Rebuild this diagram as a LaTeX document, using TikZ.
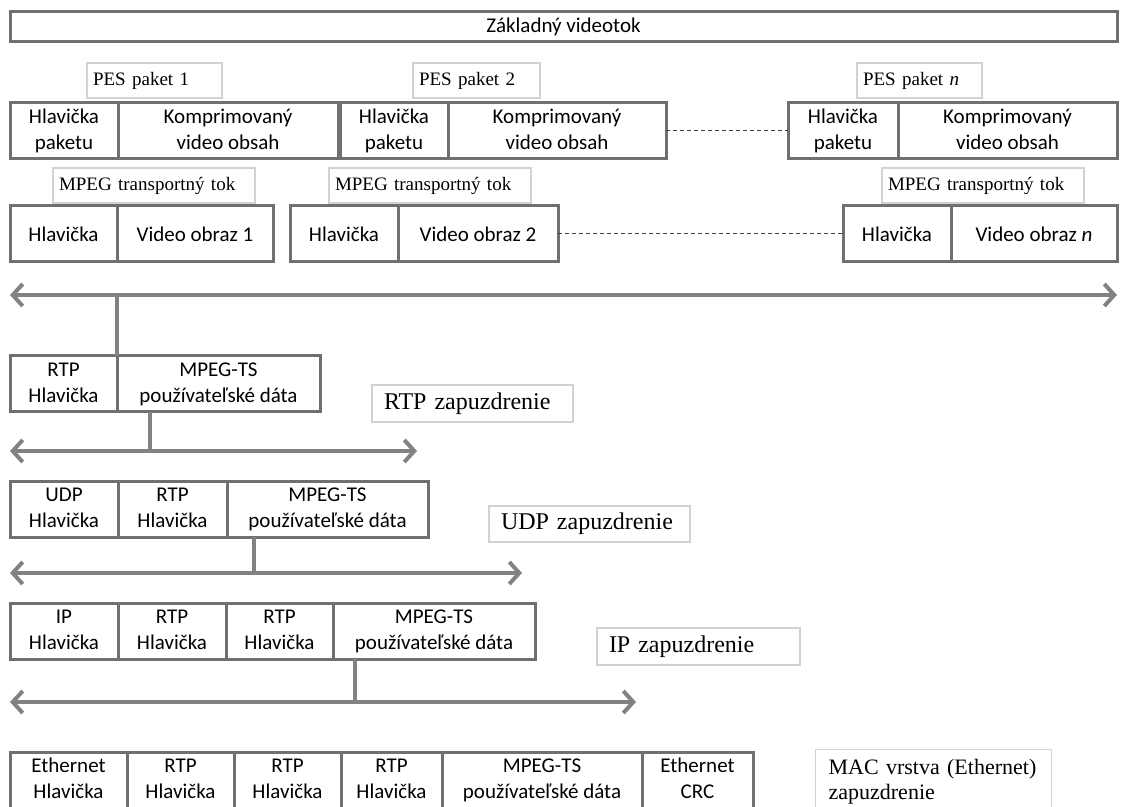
\documentclass[tikz,border=0pt]{standalone}
\usepackage{fontspec}
\setmainfont{Liberation Serif}
\newfontfamily\fieldfont{Carlito}
\usetikzlibrary{arrows.meta, positioning, calc}
\definecolor{boxgray}{RGB}{112,112,112}
\definecolor{busgray}{RGB}{130,130,130}
\definecolor{tagline}{RGB}{210,210,210}
\hyphenpenalty=10000
\newcommand{\tworows}[2]{\strut#1\\\strut#2}
\tikzset{
  field/.style={rectangle, draw=boxgray, line width=1.5pt, fill=white,
                minimum height=28pt, inner sep=0pt, outer sep=0pt,
                align=center, font=\fieldfont\fontsize{10.5}{13}\selectfont},
  tag/.style={rectangle, draw=tagline, line width=0.6pt, fill=white,
              text width=#1, align=left, inner xsep=3pt, inner ysep=2pt,
              minimum height=17.5pt, font=\fontsize{9.5}{11}\selectfont},
  bigtag/.style={tag=#1, inner xsep=6pt, font=\fontsize{12}{13}\selectfont},
  bus/.style={draw=busgray, line width=2pt,
              {Straight Barb[length=5pt,width=11pt]}-{Straight Barb[length=5pt,width=11pt]}},
  stem/.style={draw=busgray, line width=2pt},
  gap/.style={draw=black!75, line width=0.5pt, dash pattern=on 2pt off 1.5pt},
}
\begin{document}
\begin{tikzpicture}[x=0.5pt, y=-0.5pt, node distance=0pt]
  \useasboundingbox (0,0) rectangle (1124,807);

  % elementary stream
  \node[field, minimum width=553.5pt, minimum height=15pt, anchor=north west] (es) at (10,12) {Základný videotok};

  % PES packets
  \node[tag=61.5pt] (pes1) at (154.5,80.5) {PES paket 1};
  \node[tag=57.5pt] (pes2) at (476.5,80.5) {PES paket 2};
  \node[tag=56.5pt] (pesn) at (919.5,80.5) {PES paket \textit{n}};

  \node[field, minimum width=54pt, anchor=north west] (p1h) at (10,103) {\tworows{Hlavička}{paketu}};
  \node[field, minimum width=110pt, right=of p1h] (p1d) {\tworows{Komprimovaný}{video obsah}};
  \node[field, minimum width=54pt, anchor=north west] (p2h) at (340,103) {\tworows{Hlavička}{paketu}};
  \node[field, minimum width=109pt, right=of p2h] (p2d) {\tworows{Komprimovaný}{video obsah}};
  \node[field, minimum width=55pt, anchor=north west] (pnh) at (788,103) {\tworows{Hlavička}{paketu}};
  \node[field, minimum width=109.5pt, right=of pnh] (pnd) {\tworows{Komprimovaný}{video obsah}};
  \draw[gap] (p2d) -- (pnh);

  % transport stream
  \node[tag=95pt] (ts1) at (154,185.5) {MPEG transportný tok};
  \node[tag=95pt] (ts2) at (430,185.5) {MPEG transportný tok};
  \node[tag=95pt] (tsn) at (983,185.5) {MPEG transportný tok};

  \node[field, minimum width=53.5pt, anchor=north west] (t1h) at (10,206) {Hlavička};
  \node[field, minimum width=78pt, right=of t1h] (t1d) {Video obraz 1};
  \node[field, minimum width=54pt, anchor=north west] (t2h) at (290,206) {Hlavička};
  \node[field, minimum width=80pt, right=of t2h] (t2d) {Video obraz 2};
  \node[field, minimum width=54pt, anchor=north west] (tnh) at (843,206) {Hlavička};
  \node[field, minimum width=83pt, right=of tnh] (tnd) {Video obraz \textit{n}};
  \draw[gap] (t2d) -- (tnh);

  \coordinate (b1l) at (10,295);
  \coordinate (b1r) at (1117,295);
  \draw[bus] (b1l) -- (b1r);

  % RTP
  \node[field, minimum width=53.5pt, anchor=north west] (rtph) at (10,356) {\tworows{RTP}{Hlavička}};
  \node[field, minimum width=101.5pt, right=of rtph] (rtpd) {\tworows{MPEG-TS}{používateľské dáta}};
  \node[bigtag=88.5pt, minimum height=18.5pt] (rtpenc) at (472.5,403.5) {RTP zapuzdrenie};
  \draw[stem] (b1l -| rtph.north east) -- (rtph.north east);

  \coordinate (b2l) at (10,451);
  \coordinate (b2r) at (417,451);
  \coordinate (b2s) at (150,451);
  \draw[bus] (b2l) -- (b2r);
  \draw[stem] (b2s |- rtpd.south) -- (b2s);

  % UDP
  \node[field, minimum width=54pt, anchor=north west] (udph) at (10,481) {\tworows{UDP}{Hlavička}};
  \node[field, minimum width=54.5pt, right=of udph] (udpr) {\tworows{RTP}{Hlavička}};
  \node[field, minimum width=100.5pt, right=of udpr] (udpd) {\tworows{MPEG-TS}{používateľské dáta}};
  \node[bigtag=88.5pt, minimum height=18pt] (udpenc) at (589.5,524) {UDP zapuzdrenie};

  \coordinate (b3l) at (10,573);
  \coordinate (b3r) at (522,573);
  \coordinate (b3s) at (254,573);
  \draw[bus] (b3l) -- (b3r);
  \draw[stem] (b3s |- udpd.south) -- (b3s);

  % IP
  \node[field, minimum width=54pt, anchor=north west] (iph) at (10,603) {\tworows{IP}{Hlavička}};
  \node[field, minimum width=54pt, right=of iph] (ipr1) {\tworows{RTP}{Hlavička}};
  \node[field, minimum width=53.5pt, right=of ipr1] (ipr2) {\tworows{RTP}{Hlavička}};
  \node[field, minimum width=101pt, right=of ipr2] (ipd) {\tworows{MPEG-TS}{používateľské dáta}};
  \node[bigtag=89.5pt, minimum height=18.5pt] (ipenc) at (698.5,646.5) {IP zapuzdrenie};

  \coordinate (b4l) at (10,702);
  \coordinate (b4r) at (636,702);
  \coordinate (b4s) at (355,702);
  \draw[bus] (b4l) -- (b4r);
  \draw[stem] (b4s |- ipd.south) -- (b4s);

  % Ethernet
  \node[field, minimum width=58.5pt, anchor=north west] (eth) at (10,752) {\tworows{Ethernet}{Hlavička}};
  \node[field, minimum width=53.5pt, right=of eth] (ethr1) {\tworows{RTP}{Hlavička}};
  \node[field, minimum width=53.5pt, right=of ethr1] (ethr2) {\tworows{RTP}{Hlavička}};
  \node[field, minimum width=50.5pt, right=of ethr2] (ethr3) {\tworows{RTP}{Hlavička}};
  \node[field, minimum width=100pt, right=of ethr3] (ethd) {\tworows{MPEG-TS}{používateľské dáta}};
  \node[field, minimum width=55.5pt, right=of ethd] (crc) {\tworows{Ethernet}{CRC}};
  \node[tag=105pt, inner xsep=6.5pt, inner ysep=5pt, anchor=north west,
        font=\fontsize{11}{12.5}\selectfont] (macenc) at (815,749)
    {MAC vrstva (Ethernet)\\zapuzdrenie};
\end{tikzpicture}
\end{document}
